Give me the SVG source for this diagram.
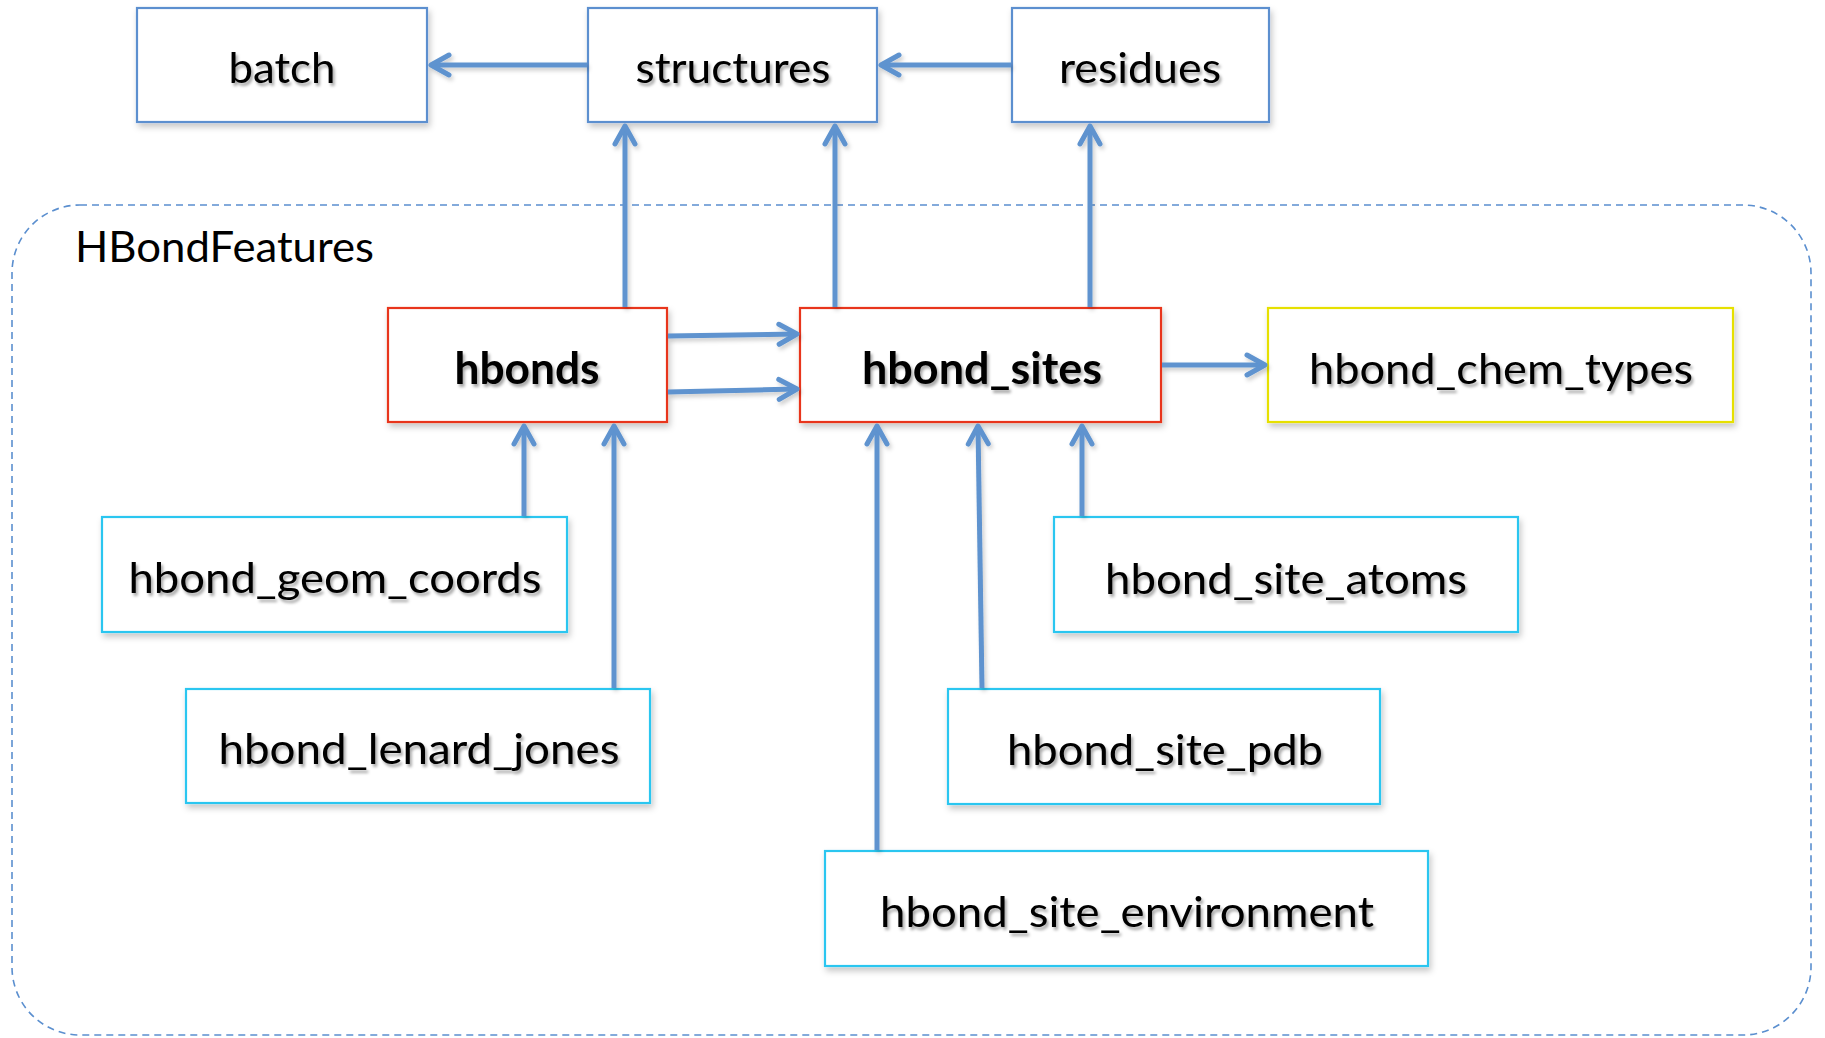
<svg xmlns="http://www.w3.org/2000/svg" width="1825" height="1038" viewBox="0 0 1825 1038">
<defs>
<style>
.box{fill:#ffffff;stroke-width:2.2;filter:url(#bshadow)}
.blue{stroke:#5b8fcf}
.red{stroke:#e8351a}
.yellow{stroke:#e6e000}
.cyan{stroke:#29c6f0}
.lbl{font-family:Lato,"Liberation Sans",sans-serif;font-size:43px;fill:#000;text-anchor:middle;filter:url(#tshadow)}
.bold{font-weight:bold}
.conn{stroke:#5e93cf;stroke-width:5;fill:none;marker-end:url(#arr)}
.group{fill:none;stroke:#5b8fcf;stroke-width:1.6;stroke-dasharray:7 5}
</style>
<filter id="bshadow" x="-10%" y="-10%" width="120%" height="140%">
<feDropShadow dx="2" dy="4" stdDeviation="3" flood-color="#000" flood-opacity="0.22"/>
</filter>
<filter id="tshadow" x="-10%" y="-20%" width="120%" height="150%">
<feDropShadow dx="2" dy="3" stdDeviation="1.6" flood-color="#000" flood-opacity="0.35"/>
</filter>
<filter id="cshadow" filterUnits="userSpaceOnUse" x="0" y="0" width="1825" height="1038">
<feDropShadow dx="2" dy="3" stdDeviation="2" flood-color="#000" flood-opacity="0.2"/>
</filter>
<marker id="arr" markerUnits="userSpaceOnUse" viewBox="-24 -14 30 28" markerWidth="30" markerHeight="28" refX="0" refY="0" orient="auto">
<path d="M-18,-10 L0,0 L-18,10" fill="none" stroke="#5e93cf" stroke-width="5" stroke-linecap="round" stroke-linejoin="round"/>
</marker>
</defs>
<rect width="1825" height="1038" fill="#ffffff"/>

<g id="HBondFeatures">
<rect class="group" x="12" y="205" width="1799" height="830" rx="68" ry="68"/>
<text x="75" y="262" style="font-family:Lato,'Liberation Sans',sans-serif;font-size:43px;fill:#000" textLength="299" lengthAdjust="spacingAndGlyphs">HBondFeatures</text>
</g>

<g id="batch">
<rect class="box blue" x="137" y="8" width="290" height="114"/>
<text class="lbl" x="282" y="83" textLength="107" lengthAdjust="spacingAndGlyphs">batch</text>
</g>
<g id="structures">
<rect class="box blue" x="588" y="8" width="289" height="114"/>
<text class="lbl" x="733" y="83" textLength="195" lengthAdjust="spacingAndGlyphs">structures</text>
</g>
<g id="residues">
<rect class="box blue" x="1012" y="8" width="257" height="114"/>
<text class="lbl" x="1140" y="83" textLength="162" lengthAdjust="spacingAndGlyphs">residues</text>
</g>
<g id="hbonds">
<rect class="box red" x="388" y="308" width="279" height="114"/>
<text class="lbl bold" x="527" y="384" textLength="145" lengthAdjust="spacingAndGlyphs">hbonds</text>
</g>
<g id="hbond_sites">
<rect class="box red" x="800" y="308" width="361" height="114"/>
<text class="lbl bold" x="982" y="384" textLength="240" lengthAdjust="spacingAndGlyphs">hbond_sites</text>
</g>
<g id="hbond_chem_types">
<rect class="box yellow" x="1268" y="308" width="465" height="114"/>
<text class="lbl" x="1501" y="384" textLength="384" lengthAdjust="spacingAndGlyphs">hbond_chem_types</text>
</g>
<g id="hbond_geom_coords">
<rect class="box cyan" x="102" y="517" width="465" height="115"/>
<text class="lbl" x="335" y="593" textLength="413" lengthAdjust="spacingAndGlyphs">hbond_geom_coords</text>
</g>
<g id="hbond_lenard_jones">
<rect class="box cyan" x="186" y="689" width="464" height="114"/>
<text class="lbl" x="419" y="764" textLength="401" lengthAdjust="spacingAndGlyphs">hbond_lenard_jones</text>
</g>
<g id="hbond_site_atoms">
<rect class="box cyan" x="1054" y="517" width="464" height="115"/>
<text class="lbl" x="1286" y="594" textLength="362" lengthAdjust="spacingAndGlyphs">hbond_site_atoms</text>
</g>
<g id="hbond_site_pdb">
<rect class="box cyan" x="948" y="689" width="432" height="115"/>
<text class="lbl" x="1165" y="765" textLength="316" lengthAdjust="spacingAndGlyphs">hbond_site_pdb</text>
</g>
<g id="hbond_site_environment">
<rect class="box cyan" x="825" y="851" width="603" height="115"/>
<text class="lbl" x="1127" y="927" textLength="494" lengthAdjust="spacingAndGlyphs">hbond_site_environment</text>
</g>

<g id="connectors" filter="url(#cshadow)">
<line class="conn" x1="587" y1="65" x2="431" y2="65"/>
<line class="conn" x1="1011" y1="65" x2="881" y2="65"/>
<line class="conn" x1="625" y1="307" x2="625" y2="126"/>
<line class="conn" x1="835" y1="307" x2="835" y2="126"/>
<line class="conn" x1="1090" y1="307" x2="1090" y2="126"/>
<line class="conn" x1="668" y1="336" x2="797" y2="334"/>
<line class="conn" x1="668" y1="392" x2="797" y2="389"/>
<line class="conn" x1="1162" y1="365" x2="1265" y2="365"/>
<line class="conn" x1="524" y1="516" x2="524" y2="426"/>
<line class="conn" x1="614" y1="688" x2="614" y2="426"/>
<line class="conn" x1="877" y1="850" x2="877" y2="426"/>
<line class="conn" x1="982" y1="688" x2="978" y2="426"/>
<line class="conn" x1="1082" y1="516" x2="1082" y2="426"/>
</g>
</svg>
